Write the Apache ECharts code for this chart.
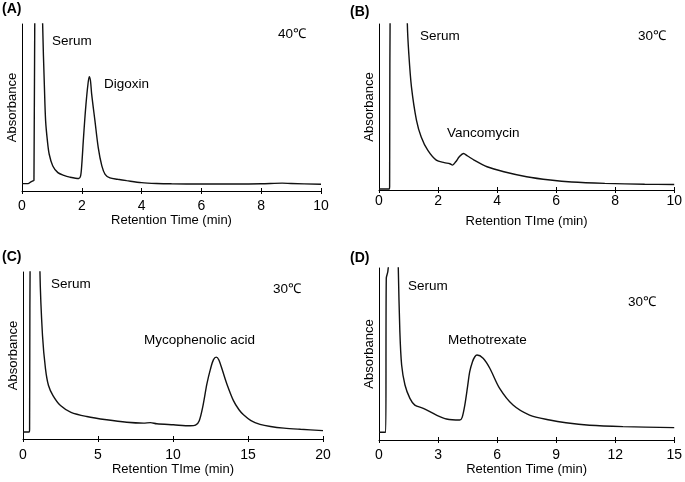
<!DOCTYPE html>
<html><head><meta charset="utf-8">
<script src="https://cdn.jsdelivr.net/npm/echarts@6/dist/echarts.min.js"></script>
<style>html,body{margin:0;padding:0;background:#fff}#c{width:685px;height:482px}</style>
</head><body><div id="c"></div>
<script>
// Panel A (Digoxin, 40℃)
var timesA = [0, 0.2, 0.3, 0.36, 0.40, 0.44, 0.55, 0.66, 0.69, 0.75, 0.79, 0.85, 0.91, 1.03, 1.2, 1.4, 1.6, 1.9, 1.96, 2.0, 2.05, 2.1, 2.14, 2.2, 2.25, 2.29, 2.33, 2.44, 2.55, 2.67, 2.78, 2.94, 3.2, 3.5, 4.0, 4.5, 5, 6, 7, 8, 8.7, 9, 10];
var absA = [4.4, 4.4, 5.5, 6, 6.5, 150, 300, 150, 100, 62, 42, 30, 22, 15, 11, 9.3, 8.3, 7.5, 9, 16, 30, 43, 52, 63, 68.5, 66, 58, 42, 26, 15, 10, 7.8, 7, 6.2, 5, 4.5, 4.3, 4.2, 4.2, 4.3, 4.7, 4.5, 4.0];
// Panel B (Vancomycin, 30℃)
var timesB = [0, 0.35, 0.36, 0.39, 0.7, 0.93, 0.96, 1.01, 1.1, 1.27, 1.43, 1.65, 1.94, 2.21, 2.4, 2.49, 2.6, 2.72, 2.86, 3.0, 3.22, 3.66, 4.23, 5.0, 5.8, 6.53, 7.65, 9, 10];
var absB = [0.6, 0.6, 2, 150, 300, 150, 100, 82, 62, 42, 32, 24, 18, 16.5, 15.8, 15, 17, 20, 22, 20.5, 18, 14, 11, 8, 6, 4.8, 4.0, 3.5, 3.3];
// Panel C (Mycophenolic acid, 30℃)
var timesC = [0, 0.42, 0.44, 0.5, 0.8, 1.1, 1.13, 1.3, 1.5, 1.7, 2.0, 2.5, 3.2, 4.25, 5.58, 6.92, 8.03, 8.5, 8.92, 10.03, 11.15, 11.5, 11.75, 12.0, 12.26, 12.5, 12.7, 12.88, 13.05, 13.3, 13.59, 14.03, 14.4, 14.7, 15.2, 15.8, 16.5, 17.4, 18.5, 20];
var absC = [4.2, 4.2, 6, 150, 300, 150, 100, 62, 42, 32, 26, 20, 16, 13.5, 11.5, 10, 9.5, 9.8, 9.1, 8.5, 7.9, 8.3, 11, 20, 33, 42, 47.5, 49, 47.5, 41, 33, 23, 17.5, 14.5, 11, 8.8, 7.5, 6.5, 5.8, 5];
// Panel D (Methotrexate, 30℃)
var timesD = [0, 0.34, 0.37, 0.45, 0.53, 0.7, 0.9, 0.98, 1.06, 1.15, 1.32, 1.57, 1.82, 2.25, 2.92, 3.43, 4.1, 4.22, 4.36, 4.5, 4.61, 4.75, 4.87, 4.98, 5.29, 5.63, 6.13, 6.81, 7.65, 8.67, 9.5, 10.7, 12.4, 15];
var absD = [4.5, 4.5, 94, 98, 110, 300, 150, 100, 63, 43.6, 32, 24.2, 20.3, 18.4, 14.5, 12.2, 11.6, 13, 20.3, 31, 39.7, 45.5, 48.4, 49.4, 47.5, 41.7, 30, 20.3, 14.5, 11.6, 10, 8.6, 7.8, 7.2];

var xMax = [10, 10, 20, 15];
var xStep = [2, 2, 5, 3];
var xNames = ['Retention Time (min)', 'Retention TIme (min)', 'Retention TIme (min)', 'Retention Time (min)'];
var panelLetters = ['(A)', '(B)', '(C)', '(D)'];
var analytes = ['Digoxin', 'Vancomycin', 'Mycophenolic acid', 'Methotrexate'];
var temps = ['40℃', '30℃', '30℃', '30℃'];

var FONT = '"Liberation Sans", Arial, sans-serif';
var grids = [
  {left: 22, top: 24, width: 299, height: 167},
  {left: 379, top: 24, width: 298, height: 166},
  {left: 23, top: 272, width: 300, height: 167},
  {left: 379, top: 268, width: 296, height: 172}
];
var labelMargin = [8, 4, 9, 8];
var nameGapX = [23, 25, 23, 21];
var series = [];
var xAxes = [], yAxes = [];
var tData = [timesA, timesB, timesC, timesD];
var vData = [absA, absB, absC, absD];
for (var i = 0; i < 4; i++) {
  xAxes.push({
    type: 'value', gridIndex: i, min: 0, max: xMax[i], interval: xStep[i],
    name: xNames[i], nameLocation: 'middle', nameGap: nameGapX[i],
    nameTextStyle: {fontFamily: FONT, fontSize: 13, color: '#000'},
    axisLine: {show: true, lineStyle: {color: '#000', width: 1}},
    axisTick: {show: true, length: 3, lineStyle: {color: '#000'}},
    axisLabel: {fontFamily: FONT, fontSize: 14, color: '#000', margin: labelMargin[i]},
    splitLine: {show: false}
  });
  yAxes.push({
    type: 'value', gridIndex: i, min: 0, max: 100,
    name: 'Absorbance', nameLocation: 'middle', nameGap: 3,
    nameTextStyle: {fontFamily: FONT, fontSize: 13, color: '#000'},
    axisLine: {show: true, lineStyle: {color: '#000', width: 1}},
    axisTick: {show: false}, axisLabel: {show: false}, splitLine: {show: false}
  });
  var pts = [];
  for (var k = 0; k < tData[i].length; k++) pts.push([tData[i][k], vData[i][k]]);
  series.push({
    type: 'line', xAxisIndex: i, yAxisIndex: i, data: pts, showSymbol: false,
    symbol: 'none', clip: true, smooth: 0.3,
    lineStyle: {color: '#111', width: 1.4}, animation: false
  });
}
// inner half of the crossing ticks
for (var j = 0; j < 4; j++) {
  xAxes.push({
    type: 'value', gridIndex: j, min: 0, max: xMax[j], interval: xStep[j], position: 'bottom',
    axisLine: {show: false}, axisTick: {show: true, inside: true, length: 3, lineStyle: {color: '#000'}},
    axisLabel: {show: false}, splitLine: {show: false}
  });
}
function txt(x, y, s, size, bold) {
  return {type: 'text', left: x, top: y, style: {text: s, fontFamily: FONT, fontSize: size, fontWeight: bold ? 'bold' : 'normal', fill: '#000'}};
}
var graphics = [
  txt(2, 2, panelLetters[0], 14, true),
  txt(350, 5, panelLetters[1], 14, true),
  txt(2, 250, panelLetters[2], 14, true),
  txt(350, 251, panelLetters[3], 14, true),
  txt(52, 34, 'Serum', 13.5), txt(420, 29, 'Serum', 13.5), txt(51, 277, 'Serum', 13.5), txt(408, 279, 'Serum', 13.5),
  txt(104, 77, analytes[0], 13.5), txt(447, 126, analytes[1], 13.5), txt(144, 333, analytes[2], 13.5), txt(448, 333, analytes[3], 13.5),
  txt(278, 27, temps[0], 13.5), txt(638, 29, temps[1], 13.5), txt(273, 282, temps[2], 13.5), txt(628, 295, temps[3], 13.5)
];
var chart = echarts.init(document.getElementById('c'), null, {renderer: 'canvas'});
chart.setOption({
  animation: false, backgroundColor: '#fff',
  grid: grids, xAxis: xAxes, yAxis: yAxes, series: series, graphic: graphics
});
</script></body></html>
